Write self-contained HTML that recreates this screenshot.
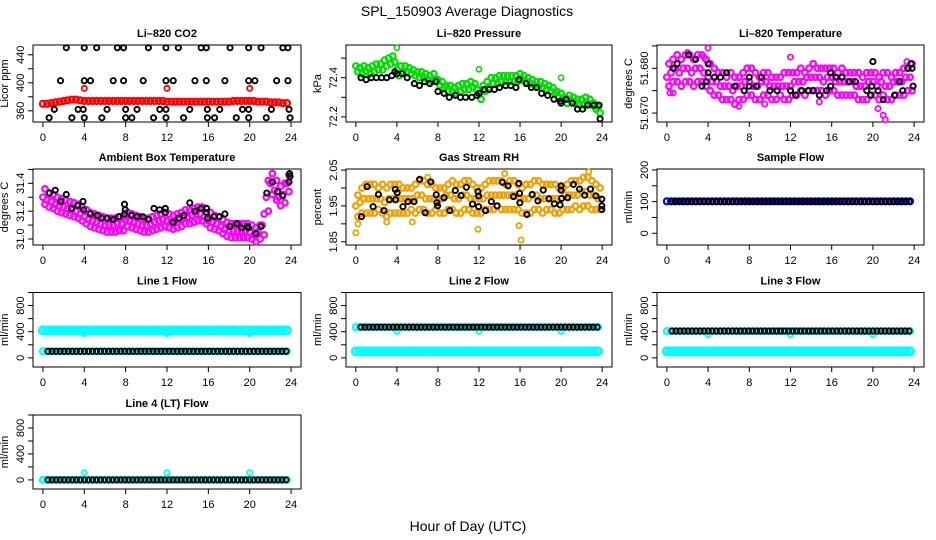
<!DOCTYPE html>
<html><head><meta charset="utf-8">
<style>
html,body{margin:0;padding:0;background:#fff;}
svg{display:block;font-family:"Liberation Sans",sans-serif;}
</style></head>
<body>
<svg id="chart" width="936" height="540" viewBox="0 0 936 540">
<text x="467" y="16" font-size="14" text-anchor="middle">SPL_150903  Average Diagnostics</text>
<text x="468" y="531" font-size="14" text-anchor="middle">Hour of Day (UTC)</text>
</svg>
<script>
// ---------- data ----------
const xTicks = [0,4,8,12,16,20,24];
const flowTicks = [0,200,400,600,800,1000];
const flowLabels = [0,400,800];

const co2Red = [370,370,371,372,373,374,375,376,376,375,374,374,374,374,374,374,374,374,374,374,374,374,374,374,374,374,374,374,374,374,373,373,373,373,373,373,373,373,373,373,373,373,373,373,373,373,374,374,374,374,374,374,373,373,373,372,372,372,371,371];
const co2RedOutHours = [4,12,20];
const co2RedOutVals = [392,392,392];
const co2BlackHours = [2.26,4.0,5.2,7.2,7.8,10.2,11.9,13.1,15.3,15.8,18.1,19.9,21.1,23.2,23.7,
 1.7,4.0,4.6,6.8,7.8,9.7,11.9,12.6,14.7,15.8,17.6,19.9,20.5,22.6,23.7,
 1.1,3.4,3.9,6.2,8.0,9.1,11.3,11.9,14.2,15.9,17.1,19.3,19.9,22.1,23.8,
 0.6,2.8,4.0,5.7,8.0,8.6,10.7,11.9,13.6,15.9,16.6,18.7,19.9,21.6,23.9];
const co2BlackVals = [450,450,450,450,450,450,450,450,450,450,450,450,450,450,450,
 403,403,403,403,403,403,403,403,403,403,403,403,403,403,403,
 362,362,362,362,362,362,362,362,362,362,362,362,362,362,362,
 350,350,350,350,350,350,350,350,350,350,350,350,350,350,350];

const pressGreen = [72.46,72.45,72.46,72.45,72.46,72.47,72.47,72.49,72.50,72.51, 72.44,72.46,72.46,72.45,72.44,72.43,72.43,72.42,72.41,72.42, 72.39,72.38,72.36,72.36,72.35,72.36,72.37,72.37,72.38,72.37, 72.32,72.36,72.38,72.40,72.40,72.41,72.41,72.41,72.41,72.41, 72.42,72.41,72.40,72.39,72.38,72.38,72.37,72.36,72.35,72.33, 72.32,72.30,72.31,72.30,72.29,72.29,72.30,72.29,72.27,72.25];
const pressGreenLo = [72.43,72.42,72.43,72.42,72.43,72.44,72.44,72.46,72.47,72.48, 72.41,72.43,72.43,72.42,72.41,72.40,72.40,72.39,72.38,72.39, 72.36,72.35,72.33,72.33,72.32,72.33,72.34,72.34,72.35,72.34, 72.29,72.33,72.35,72.37,72.37,72.38,72.38,72.38,72.38,72.38, 72.39,72.38,72.37,72.36,72.35,72.35,72.34,72.33,72.32,72.30, 72.29,72.27,72.28,72.27,72.26,72.26,72.27,72.26,72.24,72.22];
const pressOutHours = [4,12,20];
const pressOutVals = [72.553,72.443,72.40];
const pressBlackHours = [0.5,1,1.5,2,2.5,3,3.5,3.8,4,4.5,5,5.7,6.2,6.7,7.2,7.8,8,8.6,9.1,9.7,10.2,10.7,11.3,11.8,12,12.5,13,13.5,14,14.6,15.1,15.6,15.9,16.6,17.1,17.6,18.1,18.7,19.3,19.9,20,20.5,21.1,21.6,22.1,22.6,23.2,23.7,23.8];
const pressBlackVals = [72.40,72.39,72.40,72.40,72.40,72.40,72.41,72.43,72.42,72.42,72.40,72.37,72.36,72.38,72.37,72.38,72.33,72.32,72.30,72.31,72.30,72.30,72.30,72.31,72.32,72.34,72.34,72.34,72.35,72.36,72.36,72.35,72.39,72.37,72.35,72.35,72.32,72.31,72.29,72.28,72.27,72.29,72.27,72.24,72.24,72.26,72.26,72.26,72.19];

const liMid = [51.678,51.679,51.680,51.679,51.680,51.680,51.679,51.680,51.680,51.679, 51.678,51.677,51.677,51.676,51.676,51.676,51.675,51.676,51.676,51.677, 51.677,51.676,51.676,51.677,51.677,51.676,51.676,51.676,51.676,51.676, 51.676,51.677,51.677,51.677,51.678,51.678,51.678,51.678,51.677,51.678, 51.678,51.677,51.677,51.677,51.677,51.677,51.676,51.676,51.676,51.677, 51.677,51.676,51.677,51.676,51.676,51.677,51.677,51.677,51.678,51.678];
const liHi = [51.681,51.682,51.683,51.682,51.683,51.683,51.682,51.683,51.683,51.682, 51.681,51.680,51.679,51.679,51.678,51.679,51.678,51.678,51.679,51.680, 51.680,51.679,51.678,51.679,51.679,51.678,51.678,51.678,51.679,51.679, 51.679,51.679,51.680,51.679,51.680,51.681,51.680,51.680,51.680,51.680, 51.680,51.679,51.680,51.679,51.679,51.679,51.679,51.678,51.679,51.679, 51.679,51.678,51.679,51.679,51.678,51.679,51.679,51.680,51.680,51.681];
const liLo = [51.676,51.677,51.677,51.676,51.677,51.677,51.676,51.677,51.677,51.676, 51.675,51.674,51.674,51.673,51.673,51.673,51.672,51.673,51.673,51.674, 51.674,51.673,51.673,51.674,51.674,51.673,51.673,51.674,51.673,51.673, 51.674,51.674,51.675,51.674,51.675,51.675,51.675,51.675,51.674,51.675, 51.675,51.674,51.674,51.674,51.674,51.674,51.673,51.673,51.673,51.674, 51.674,51.673,51.674,51.673,51.673,51.674,51.674,51.674,51.675,51.675];
const liOutHours = [0.3,0.6,4.0,3.6,9.5,20.5,21.0,21.2,23.3,14.8,12.0,2.0,7.0];
const liOutVals = [51.6745,51.6745,51.6845,51.6825,51.672,51.671,51.6695,51.6685,51.6815,51.6725,51.6825,51.6835,51.6715];
const liBlackHours = [0.6,1.0,2.1,2.8,3.4,4.0,4.0,3.8,4.6,5.2,5.8,6.6,7.5,8.0,8.0,8.7,9.2,10.0,10.7,12.0,12.5,13.1,13.7,14.2,14.8,15.5,15.9,15.9,16.4,17.0,17.7,18.3,19.4,19.8,20.0,19.9,20.5,21.0,22.1,22.9,22.6,23.4,23.7,23.8,23.9];
const liBlackVals = [51.680,51.681,51.683,51.682,51.676,51.681,51.679,51.677,51.678,51.678,51.679,51.676,51.675,51.678,51.676,51.676,51.678,51.675,51.675,51.675,51.674,51.675,51.675,51.675,51.674,51.675,51.679,51.676,51.678,51.678,51.677,51.677,51.675,51.674,51.6815,51.676,51.675,51.673,51.674,51.675,51.677,51.680,51.681,51.680,51.676];

const ambMid = [31.30,31.28,31.27,31.25,31.24,31.23,31.22,31.21,31.20,31.18, 31.16,31.14,31.13,31.12,31.11,31.10,31.10,31.10,31.11,31.11, 31.14,31.13,31.12,31.11,31.10,31.10,31.11,31.12,31.13,31.14, 31.13,31.12,31.13,31.14,31.16,31.16,31.17,31.18,31.18,31.16, 31.13,31.12,31.11,31.09,31.07,31.06,31.06,31.06,31.06,31.06, 31.05,31.03,31.05,31.10,31.30,31.40,31.35,31.30,31.32,31.40];
const ambHi = [31.36,31.33,31.32,31.30,31.29,31.28,31.27,31.26,31.25,31.23, 31.21,31.19,31.18,31.17,31.16,31.15,31.15,31.15,31.16,31.16, 31.19,31.18,31.17,31.16,31.15,31.15,31.16,31.17,31.18,31.19, 31.18,31.17,31.18,31.19,31.21,31.21,31.22,31.23,31.23,31.22, 31.19,31.17,31.16,31.14,31.12,31.11,31.11,31.11,31.11,31.11, 31.10,31.08,31.10,31.18,31.42,31.47,31.42,31.38,31.40,31.46];
const ambLo = [31.25,31.23,31.22,31.20,31.19,31.18,31.17,31.16,31.15,31.13, 31.11,31.09,31.08,31.07,31.06,31.05,31.05,31.05,31.06,31.06, 31.09,31.08,31.07,31.06,31.05,31.05,31.06,31.07,31.08,31.09, 31.08,31.07,31.08,31.09,31.11,31.11,31.12,31.13,31.13,31.11, 31.08,31.07,31.06,31.04,31.02,31.01,31.01,31.01,31.01,31.01, 31.00,30.98,31.00,31.03,31.20,31.32,31.28,31.24,31.26,31.34];
const ambBlackHours = [0.64,1.19,2.26,1.74,2.75,3.36,3.88,3.94,4.59,5.24,5.66,6.21,6.79,7.34,7.89,7.96,7.89,8.57,9.12,9.67,10.2,10.74,11.29,11.84,11.84,12.59,13.14,13.65,14.2,14.72,15.27,15.82,15.82,15.92,16.57,17.08,17.6,18.1,18.77,19.22,19.8,19.87,20.6,21.1,21.65,22.2,22.7,23.2,23.8,23.85,23.9];
const ambBlackVals = [31.33,31.35,31.32,31.27,31.22,31.24,31.27,31.21,31.18,31.17,31.15,31.15,31.14,31.16,31.25,31.21,31.18,31.17,31.16,31.16,31.14,31.22,31.21,31.22,31.19,31.12,31.15,31.17,31.26,31.20,31.22,31.22,31.19,31.15,31.16,31.16,31.18,31.09,31.11,31.08,31.09,31.08,31.04,31.09,31.33,31.41,31.34,31.31,31.41,31.47,31.45];

const rhMid = [1.95,1.96,1.97,1.97,1.97,1.97,1.97,1.96,1.97,1.97, 1.97,1.97,1.97,1.97,1.97,1.98,1.98,1.97,1.97,1.97, 1.97,1.97,1.98,1.98,1.97,1.97,1.98,1.98,1.97,1.97, 1.97,1.97,1.98,1.98,1.98,1.98,1.98,1.98,1.98,1.98, 1.97,1.97,1.97,1.98,1.98,1.97,1.97,1.97,1.97,1.97, 1.97,1.98,1.98,1.98,1.98,1.99,1.99,1.98,1.98,1.97];
const rhHi = [1.98,2.00,2.01,2.01,2.01,2.00,2.01,2.00,2.01,2.01, 2.01,2.00,2.00,2.00,2.01,2.02,2.02,2.01,2.01,2.00, 2.00,2.00,2.01,2.02,2.01,2.01,2.02,2.02,2.01,2.00, 2.00,2.01,2.02,2.02,2.02,2.02,2.01,2.02,2.02,2.01, 2.00,2.01,2.01,2.02,2.02,2.01,2.01,2.01,2.01,2.00, 2.00,2.01,2.02,2.02,2.02,2.03,2.03,2.02,2.01,2.00];
const rhLo = [1.92,1.93,1.93,1.93,1.93,1.94,1.93,1.92,1.93,1.93, 1.93,1.93,1.93,1.94,1.93,1.94,1.94,1.93,1.93,1.94, 1.93,1.93,1.94,1.94,1.93,1.93,1.94,1.94,1.93,1.93, 1.93,1.94,1.94,1.94,1.95,1.94,1.94,1.94,1.94,1.94, 1.93,1.93,1.93,1.94,1.94,1.93,1.94,1.94,1.93,1.93, 1.94,1.94,1.94,1.95,1.94,1.95,1.95,1.94,1.94,1.94];
const rhOutHours = [0,0.2,16.1,15.9,11.9,22.7,14.5,6.2,7.0,3.0,5.5];
const rhOutVals = [1.875,1.90,1.855,1.895,1.885,2.045,2.04,2.025,2.03,1.905,1.905];
const rhBlackHours = [0.54,1.1,1.68,2.2,3.28,2.74,3.84,3.87,4.03,4.59,5.08,5.67,6.22,6.75,7.3,7.83,7.9,7.96,8.6,9.16,9.69,10.25,10.77,11.37,11.9,11.96,11.96,12.64,13.2,13.75,14.28,14.84,15.36,15.88,15.95,15.98,16.67,17.18,17.74,18.26,18.82,19.34,19.9,20.0,20.0,20.05,20.64,21.2,21.8,22.3,22.86,23.4,23.97,23.97,23.97];
const rhBlackVals = [1.92,2.004,1.948,1.982,1.967,1.937,1.996,1.967,1.987,1.948,1.962,1.962,2.024,1.931,2.017,1.981,1.959,1.95,1.973,1.937,1.993,1.979,2.002,1.955,1.99,1.948,1.978,1.937,1.962,1.95,2.016,2.006,1.976,2.013,1.985,1.959,1.926,1.982,1.964,1.994,1.97,1.956,1.953,2.006,1.994,1.971,1.973,2.01,1.997,1.98,1.997,1.978,1.969,1.95,1.94];

const sampleBlue = Array(60).fill(101);
const sampleBlack = Array(60).fill(100);

const line1CyanHi = Array(60).fill(420);
const line1CyanLo = Array(60).fill(100);
const line1Black = Array(60).fill(100);
const line1OutVals = [370,370,370];
const line2CyanHi = Array(60).fill(470);
const line2CyanLo = Array(60).fill(100);
const line2Black = Array(60).fill(470);
const line2OutVals = [405,405,405];
const line3CyanHi = Array(60).fill(410);
const line3CyanLo = Array(60).fill(100);
const line3Black = Array(60).fill(410);
const line3OutVals = [355,355,355];
const line4Cyan = Array(60).fill(0);
const line4Black = Array(60).fill(0);
const line4OutVals = [110,110,110];
const outHours = [4,12,20];

// ---------- drawing ----------
const NS = "http://www.w3.org/2000/svg";
const svg = document.getElementById("chart");
const grid = []; for (let i = 0; i < 60; i++) grid.push(i * 0.4);
const blackGrid = []; for (let i = 0; i < 60; i++) blackGrid.push(0.5 + i * 0.39);

function mk(tag, attrs, parent) {
  const e = document.createElementNS(NS, tag);
  for (const k in attrs) e.setAttribute(k, attrs[k]);
  (parent || svg).appendChild(e);
  return e;
}

function makePanel(p) {
  const g = mk("g", {});
  
  
  const sx = h => p.x0 + (h + 0.96) / 25.92 * (p.x1 - p.x0);
  const sy = v => p.y1 - (v - p.ylim[0]) / (p.ylim[1] - p.ylim[0]) * (p.y1 - p.y0);
  const box = mk("rect", {x: p.x0, y: p.y0, width: p.x1 - p.x0, height: p.y1 - p.y0, fill: "none", stroke: "#000", "stroke-width": 1}, g);
  
  
  const t = mk("text", {x: (p.x0 + p.x1) / 2, y: p.y0 - 8, "font-size": 11, "font-weight": "bold", "text-anchor": "middle"}, g);
  t.textContent = p.title;
  
  
  const xa = mk("g", {}, g);
  
  
  mk("line", {x1: sx(0), x2: sx(24), y1: p.y1, y2: p.y1, stroke: "#000"}, xa);
  xTicks.forEach(v => {
    mk("line", {x1: sx(v), x2: sx(v), y1: p.y1, y2: p.y1 + 5, stroke: "#000"}, xa);
    const tl = mk("text", {x: sx(v), y: p.y1 + 19, "font-size": 11, "text-anchor": "middle"}, xa);
    tl.textContent = v;
    
    
  });
  const ya = mk("g", {}, g);
  
  
  mk("line", {x1: p.x0, x2: p.x0, y1: sy(p.ticks[0]), y2: sy(p.ticks[p.ticks.length - 1]), stroke: "#000"}, ya);
  p.ticks.forEach(v => mk("line", {x1: p.x0 - 5, x2: p.x0, y1: sy(v), y2: sy(v), stroke: "#000"}, ya));
  p.labels.forEach((v, i) => {
    const yy = sy(v), xx = p.x0 - 9;
    const tl = mk("text", {x: xx, y: yy, "font-size": 11, "text-anchor": "middle", transform: `rotate(-90 ${xx} ${yy})`}, ya);
    tl.textContent = p.labelText ? p.labelText[i] : v;
    
    
  });
  const yl = p.x0 - 25, ym = (p.y0 + p.y1) / 2;
  const ylab = mk("text", {x: yl, y: ym, "font-size": 11, "text-anchor": "middle", transform: `rotate(-90 ${yl} ${ym})`}, g);
  ylab.textContent = p.ylab;
  
  
  const series = (hours, vals, color, r, sw, nm, dx) => {
    const sg = mk("g", {}, g);
    
    
    vals.forEach((v, i) => {
      const c = mk("circle", {cx: sx(hours[i] + (dx || 0)), cy: sy(v), r: r, fill: "none", stroke: color, "stroke-width": sw}, sg);
      
      
    });
  };
  return series;
}

const C1 = [33, 301], C2 = [346, 612], C3 = [657, 924];
const R1 = [45, 122], R2 = [169, 245], R3 = [292.5, 367], R4 = [415, 489];
const BK = "#000", BR = 2.6, BW = 1.9, CW = 2.2;

let s;
s = makePanel({name: "co2", title: "Li\u2013820 CO2", x0: C1[0], x1: C1[1], y0: R1[0], y1: R1[1], ylim: [344, 454], ticks: [360,380,400,420,440], labels: [360,400,440], ylab: "Licor ppm"});
s(grid, co2Red, "#ff0000", 3, CW, "red-series");
s(outHours, co2RedOutVals, "#ff0000", 2.6, 1.8, "red-outliers");
s(co2BlackHours, co2BlackVals, BK, BR, BW, "black-series");

s = makePanel({name: "pressure", title: "Li\u2013820 Pressure", x0: C2[0], x1: C2[1], y0: R1[0], y1: R1[1], ylim: [72.174, 72.567], ticks: [72.2,72.3,72.4,72.5], labels: [72.2,72.4], ylab: "kPa"});
s(grid, pressGreen, "#00dd00", 2.8, CW, "green-series");
s(grid, pressGreenLo, "#00dd00", 2.8, CW, "green-series-low", 0.2);
s(pressOutHours, pressOutVals, "#00dd00", 2.6, 1.6, "green-outliers");
s(pressBlackHours, pressBlackVals, BK, BR, BW, "black-series");

s = makePanel({name: "li820-temp", title: "Li\u2013820 Temperature", x0: C3[0], x1: C3[1], y0: R1[0], y1: R1[1], ylim: [51.668, 51.6852], ticks: [51.670,51.675,51.680,51.685], labels: [51.670,51.680], labelText: ["51.670","51.680"], ylab: "degrees C"});
s(grid, liMid, "#ff00ff", 2.8, CW, "magenta-series");
s(grid, liHi, "#ff00ff", 2.8, CW, "magenta-series-high", 0.2);
s(grid, liLo, "#ff00ff", 2.8, CW, "magenta-series-low", 0.2);
s(liOutHours, liOutVals, "#ff00ff", 2.6, 1.8, "magenta-outliers");
s(liBlackHours, liBlackVals, BK, BR, BW, "black-series");

s = makePanel({name: "ambient-temp", title: "Ambient Box Temperature", x0: C1[0], x1: C1[1], y0: R2[0], y1: R2[1], ylim: [30.957, 31.503], ticks: [31.0,31.1,31.2,31.3,31.4,31.5], labels: [31.0,31.2,31.4], labelText: ["31.0","31.2","31.4"], ylab: "degrees C"});
s(grid, ambMid, "#ff00ff", 2.8, CW, "magenta-series");
s(grid, ambHi, "#ff00ff", 2.8, CW, "magenta-series-high", 0.2);
s(grid, ambLo, "#ff00ff", 2.8, CW, "magenta-series-low", 0.2);
s(ambBlackHours, ambBlackVals, BK, BR, BW, "black-series");

s = makePanel({name: "gas-rh", title: "Gas Stream RH", x0: C2[0], x1: C2[1], y0: R2[0], y1: R2[1], ylim: [1.841, 2.053], ticks: [1.85,1.90,1.95,2.00,2.05], labels: [1.85,1.95,2.05], ylab: "percent"});
s(grid, rhMid, "#f0a000", 2.8, CW, "orange-series");
s(grid, rhHi, "#f0a000", 2.8, CW, "orange-series-high", 0.2);
s(grid, rhLo, "#f0a000", 2.8, CW, "orange-series-low", 0.2);
s(rhOutHours, rhOutVals, "#f0a000", 2.6, 1.8, "orange-outliers");
s(rhBlackHours, rhBlackVals, BK, BR, BW, "black-series");

s = makePanel({name: "sample-flow", title: "Sample Flow", x0: C3[0], x1: C3[1], y0: R2[0], y1: R2[1], ylim: [-37, 203], ticks: [0,50,100,150,200], labels: [0,100,200], ylab: "ml/min"});
s(grid, sampleBlue, "#0000ff", 3, 2.2, "blue-series");
s(blackGrid, sampleBlack, BK, BR, BW, "black-series");

const flowLim = [-140, 1000];
s = makePanel({name: "line1-flow", title: "Line 1 Flow", x0: C1[0], x1: C1[1], y0: R3[0], y1: R3[1], ylim: flowLim, ticks: flowTicks, labels: flowLabels, ylab: "ml/min"});
s(grid, line1CyanHi, "#00ffff", 3.5, 3, "cyan-upper-series");
s(outHours, line1OutVals, "#00ffff", 2.6, 1.8, "cyan-outliers");
s(grid, line1CyanLo, "#00ffff", 3, 2.2, "cyan-lower-series");
s(blackGrid, line1Black, BK, BR, BW, "black-series");

s = makePanel({name: "line2-flow", title: "Line 2 Flow", x0: C2[0], x1: C2[1], y0: R3[0], y1: R3[1], ylim: flowLim, ticks: flowTicks, labels: flowLabels, ylab: "ml/min"});
s(grid, line2CyanLo, "#00ffff", 3.5, 3, "cyan-lower-series");
s(grid, line2CyanHi, "#00ffff", 3, 2.2, "cyan-upper-series");
s(outHours, line2OutVals, "#00ffff", 2.6, 1.8, "cyan-outliers");
s(blackGrid, line2Black, BK, BR, BW, "black-series");

s = makePanel({name: "line3-flow", title: "Line 3 Flow", x0: C3[0], x1: C3[1], y0: R3[0], y1: R3[1], ylim: flowLim, ticks: flowTicks, labels: flowLabels, ylab: "ml/min"});
s(grid, line3CyanLo, "#00ffff", 3.5, 3, "cyan-lower-series");
s(grid, line3CyanHi, "#00ffff", 3, 2.2, "cyan-upper-series");
s(outHours, line3OutVals, "#00ffff", 2.6, 1.8, "cyan-outliers");
s(blackGrid, line3Black, BK, BR, BW, "black-series");

s = makePanel({name: "line4-flow", title: "Line 4 (LT) Flow", x0: C1[0], x1: C1[1], y0: R4[0], y1: R4[1], ylim: flowLim, ticks: flowTicks, labels: flowLabels, ylab: "ml/min"});
s(grid, line4Cyan, "#00ffff", 3, 2.2, "cyan-series");
s(outHours, line4OutVals, "#00ffff", 2.6, 1.8, "cyan-outliers");
s(blackGrid, line4Black, BK, BR, BW, "black-series");
</script>
</body></html>
